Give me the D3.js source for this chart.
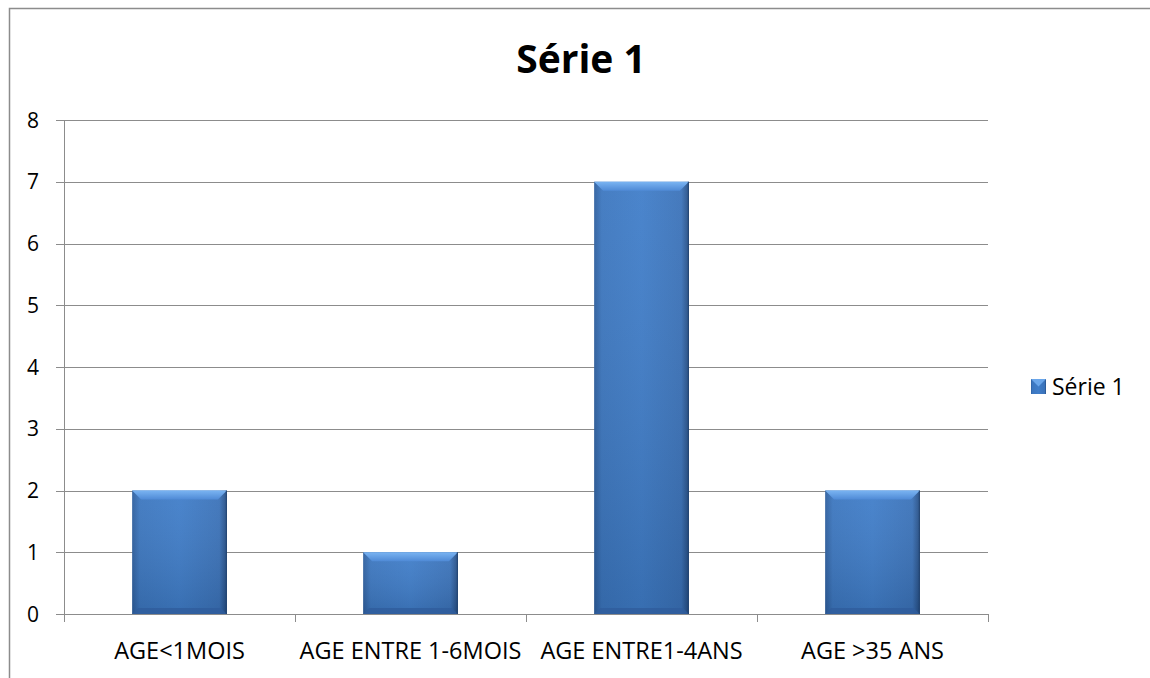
<!DOCTYPE html>
<html><head><meta charset="utf-8">
<script src="https://cdn.jsdelivr.net/npm/d3@7"></script>
<style>body{margin:0;background:#fff}svg{display:block}</style>
</head><body>
<svg id="c" width="1150" height="678"></svg>
<script>
const categories = ["AGE<1MOIS", "AGE ENTRE 1-6MOIS", "AGE ENTRE1-4ANS", "AGE >35 ANS"];
const values = [2, 1, 7, 2];
const yTicks = [0, 1, 2, 3, 4, 5, 6, 7, 8];
const seriesName = "Série 1";
const title = "Série 1";

const svg = d3.select("#c");
const font = "'Open Sans', 'Liberation Sans', sans-serif";
const m = {left: 64, right: 988, top: 120, bottom: 614};

// outer border (left + top)
svg.append("path").attr("d", "M9.5,678 L9.5,8.5 L1150,8.5").attr("fill", "none").attr("stroke", "#8c8c8c").attr("stroke-width", 1.5);

const x = d3.scaleBand().domain(categories).range([m.left, m.right]).paddingInner(0.59).paddingOuter(0.295);
const xc = d3.scaleBand().domain(categories).range([m.left, m.right]);
const y = d3.scaleLinear().domain([0, 8]).range([m.bottom, m.top]);

const defs = svg.append("defs");
const g1 = defs.append("linearGradient").attr("id", "barg").attr("x1", 0).attr("x2", 1).attr("y1", 0).attr("y2", 0);
g1.append("stop").attr("offset", "0%").attr("stop-color", "#2d5e9e");
g1.append("stop").attr("offset", "8%").attr("stop-color", "#3b76bf");
g1.append("stop").attr("offset", "50%").attr("stop-color", "#3f7dc9");
g1.append("stop").attr("offset", "92%").attr("stop-color", "#3a72b9");
g1.append("stop").attr("offset", "100%").attr("stop-color", "#244c82");
const g2 = defs.append("linearGradient").attr("id", "barv").attr("x1", 0).attr("x2", 0).attr("y1", 0).attr("y2", 1);
g2.append("stop").attr("offset", "0%").attr("stop-color", "#ffffff").attr("stop-opacity", 0.06);
g2.append("stop").attr("offset", "100%").attr("stop-color", "#000000").attr("stop-opacity", 0.12);
const g3 = defs.append("linearGradient").attr("id", "bevt").attr("x1", 0).attr("x2", 0).attr("y1", 0).attr("y2", 1);
g3.append("stop").attr("offset", "0%").attr("stop-color", "#7ab4f2");
g3.append("stop").attr("offset", "100%").attr("stop-color", "#4f8ad6");

// gridlines
svg.append("g").selectAll("line").data(yTicks).join("line")
  .attr("x1", m.left - 8).attr("x2", m.right)
  .attr("y1", d => Math.round(y(d)) + 0.5).attr("y2", d => Math.round(y(d)) + 0.5)
  .attr("stroke", "#8c8c8c").attr("stroke-width", 1);

// y axis line
svg.append("line").attr("x1", m.left + 0.5).attr("x2", m.left + 0.5).attr("y1", m.top).attr("y2", m.bottom + 8)
  .attr("stroke", "#8c8c8c");
// category ticks
const ct = categories.map(c => xc(c)).concat([m.right]);
svg.append("g").selectAll("line").data(ct).join("line")
  .attr("x1", d => Math.round(d) + 0.5).attr("x2", d => Math.round(d) + 0.5)
  .attr("y1", m.bottom).attr("y2", m.bottom + 8).attr("stroke", "#8c8c8c");

// y labels
svg.append("g").selectAll("text").data(yTicks).join("text")
  .attr("x", 39).attr("y", d => y(d)).attr("dy", "0.36em").attr("text-anchor", "end")
  .attr("font-family", font).attr("font-size", 21).attr("fill", "#000").text(d => d);

// x labels
svg.append("g").selectAll("text").data(categories).join("text")
  .attr("x", d => xc(d) + xc.bandwidth() / 2).attr("y", 651).attr("dy", "0.36em").attr("text-anchor", "middle")
  .attr("font-family", font).attr("font-size", 23.5).attr("fill", "#000").text(d => d);

// bars
const bars = svg.append("g").selectAll("g").data(categories.map((c, i) => ({c, v: values[i]}))).join("g");
bars.append("rect")
  .attr("x", d => x(d.c)).attr("y", d => y(d.v)).attr("width", x.bandwidth()).attr("height", d => y(0) - y(d.v))
  .attr("fill", "url(#barg)");
bars.append("rect")
  .attr("x", d => x(d.c)).attr("y", d => y(d.v)).attr("width", x.bandwidth()).attr("height", d => y(0) - y(d.v))
  .attr("fill", "url(#barv)");
// top bevel
const bv = 9;
bars.append("path").attr("d", d => {
  const x0 = x(d.c), x1 = x0 + x.bandwidth(), t = y(d.v);
  return `M${x0},${t} L${x1},${t} L${x1 - bv},${t + bv} L${x0 + bv},${t + bv} Z`;
}).attr("fill", "url(#bevt)");
// bottom shading
bars.append("path").attr("d", d => {
  const x0 = x(d.c), x1 = x0 + x.bandwidth(), b = y(0);
  return `M${x0},${b} L${x1},${b} L${x1 - 6},${b - 6} L${x0 + 6},${b - 6} Z`;
}).attr("fill", "#2f5d9c").attr("opacity", 0.8);
// right edge dark
bars.append("line").attr("x1", d => x(d.c) + x.bandwidth() - 0.5).attr("x2", d => x(d.c) + x.bandwidth() - 0.5)
  .attr("y1", d => y(d.v)).attr("y2", y(0)).attr("stroke", "#1f4270").attr("stroke-width", 1);

// title
svg.append("text").attr("x", 581).attr("y", 73).attr("text-anchor", "middle")
  .attr("font-family", font).attr("font-weight", "bold").attr("font-size", 39).attr("fill", "#000").text(title);

// legend
const lg = svg.append("g");
lg.append("rect").attr("x", 1031).attr("y", 379).attr("width", 15).attr("height", 15).attr("fill", "url(#barg)");
lg.append("path").attr("d", "M1031,379 L1046,379 L1038.5,386.5 Z").attr("fill", "#6aa6ea");
lg.append("text").attr("x", 1052).attr("y", 387).attr("dy", "0.36em").attr("font-family", font)
  .attr("font-size", 23).attr("fill", "#000").text(seriesName);
</script>
</body></html>
